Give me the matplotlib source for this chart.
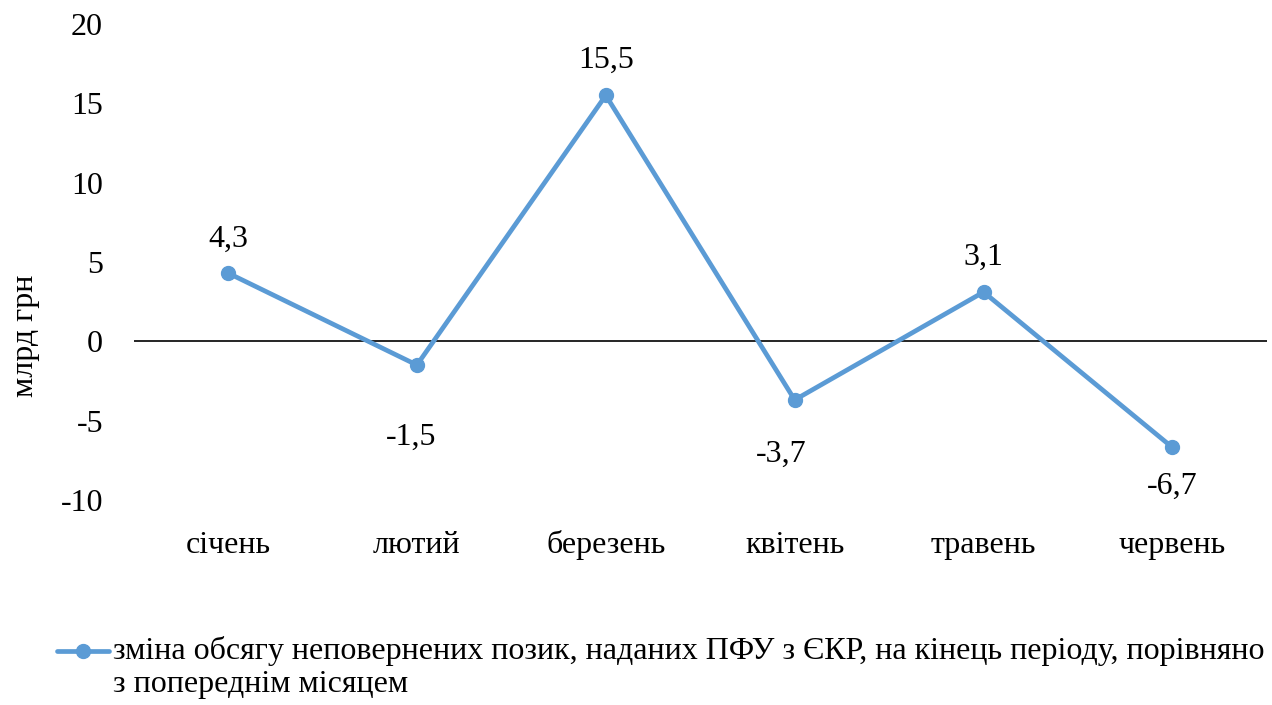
import matplotlib.pyplot as plt
from matplotlib.lines import Line2D

plt.rcParams['font.family'] = ['Liberation Serif', 'DejaVu Serif']

months = ['січень', 'лютий', 'березень', 'квітень', 'травень', 'червень']
values = [4.3, -1.5, 15.5, -3.7, 3.1, -6.7]
labels = ['4,3', '-1,5', '15,5', '-3,7', '3,1', '-6,7']
series_name = ('зміна обсягу неповернених позик, наданих ПФУ з ЄКР, на кінець періоду, порівняно\n'
               'з попереднім місяцем')
y_ticks = [-10, -5, 0, 5, 10, 15, 20]

# label offsets in points (dx, dy)
offsets = [(0, 24), (-4, -52), (0, 25), (-10, -39), (0, 25), (0, -28)]

fs = 23
color = '#5B9BD5'
fig = plt.figure(figsize=(12.72, 7.05), dpi=100)
ax = fig.add_axes([0.105, 0.291, 0.891, 0.675])

x = list(range(len(months)))
ax.plot(x, values, color=color, lw=3.4, marker='o', ms=10, solid_capstyle='round')
ax.axhline(0, color='black', lw=1.2, zorder=1)

for xi, v, lab, off in zip(x, values, labels, offsets):
    ax.annotate(lab, (xi, v), xytext=off, textcoords='offset points',
                ha='center', va='center', fontsize=fs)

ax.set_xlim(-0.5, len(months) - 0.5)
ax.set_ylim(-10, 20)
ax.set_yticks(y_ticks)
ax.set_yticklabels([str(t) for t in y_ticks], fontsize=fs)
ax.set_xticks(x)
ax.set_xticklabels(months, fontsize=fs)
ax.tick_params(axis='both', length=0)
ax.tick_params(axis='y', pad=22)
ax.tick_params(axis='x', pad=38)
for t in ax.get_xticklabels():
    t.set_va('baseline')
for s in ax.spines.values():
    s.set_visible(False)
fig.text(25 / 1272, 1 - 336 / 705, 'млрд грн', fontsize=fs, rotation=90,
         ha='center', va='center')

# legend drawn by hand so the marker sits on the first text line
ly = 1 - 651 / 705
fig.add_artist(Line2D([0.045, 0.086], [ly, ly], color=color, lw=3.4,
                      solid_capstyle='round', transform=fig.transFigure))
fig.add_artist(Line2D([0.0655], [ly], color=color, marker='o', ms=10,
                      transform=fig.transFigure))
fig.text(0.089, 1 - 636 / 705, series_name, fontsize=fs, va='top', ha='left',
         linespacing=1.17, transform=fig.transFigure)

fig.savefig('out.png', dpi=100)
